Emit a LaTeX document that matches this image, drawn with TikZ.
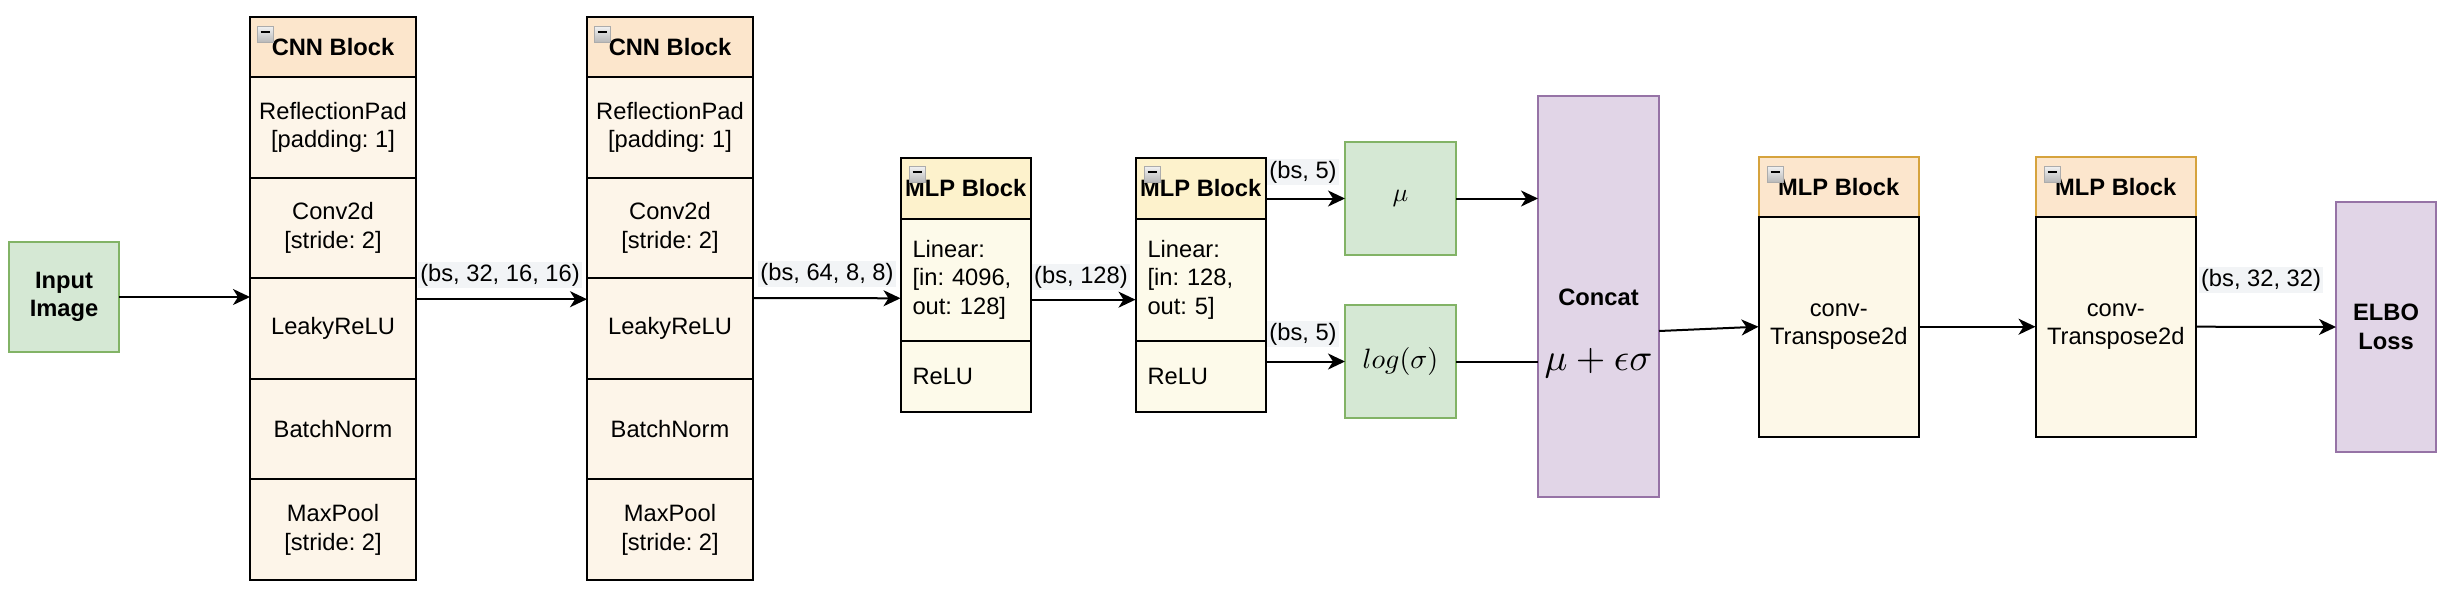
\documentclass[tikz,border=0pt]{standalone}
\usepackage[no-math]{fontspec}
\setmainfont{Liberation Sans}
\usepackage{graphicx}
\usetikzlibrary{arrows.meta}
\definecolor{inputfill}{HTML}{D5E8D4}
\definecolor{inputdraw}{HTML}{82B366}
\definecolor{cnnhead}{HTML}{FCE6CC}
\definecolor{cnnbody}{HTML}{FDF5E9}
\definecolor{mlphead}{HTML}{FDF2CC}
\definecolor{mlpbody}{HTML}{FDFAEA}
\definecolor{dechead}{HTML}{FCE6CD}
\definecolor{decdraw}{HTML}{D6A33D}
\definecolor{decbody}{HTML}{FDF8E8}
\definecolor{purplefill}{HTML}{E1D5E7}
\definecolor{purpledraw}{HTML}{9673A6}
\definecolor{labelbg}{HTML}{F2F4F6}
\begin{document}
\frenchspacing
\begin{tikzpicture}[x=1pt,y=-1pt,
  every node/.style={inner sep=0pt, outer sep=0pt},
  txt/.style={font=\fontsize{23.7}{28.6}\selectfont\frenchspacing},
  btxt/.style={font=\fontsize{23.7}{28.6}\selectfont\bfseries\frenchspacing},
  wh/.style 2 args={minimum width=#1pt, minimum height=#2pt},
  cell/.style={draw=black, line width=2pt, anchor=north west, align=center, txt},
  cnnh/.style={cell, fill=cnnhead, btxt},
  cnnb/.style={cell, fill=cnnbody},
  mlph/.style={cell, fill=mlphead, btxt},
  mlpb/.style={cell, fill=mlpbody, align=left, inner xsep=12pt, text width=106.5pt},
  dech/.style={cell, draw=decdraw, fill=dechead, btxt},
  decb/.style={cell, fill=decbody},
  green/.style={draw=inputdraw, fill=inputfill, line width=2pt, anchor=north west, align=center},
  purple/.style={draw=purpledraw, fill=purplefill, line width=2pt, anchor=north west, align=center, btxt},
  icn/.style={draw=gray!65, line width=0.8pt, top color=gray!10, bottom color=gray!55,
    minimum size=16pt, anchor=north west,
    path picture={\draw[black, line width=1.8pt]
      ([xshift=3.5pt,yshift=2pt]path picture bounding box.west) --
      ([xshift=-3.5pt,yshift=2pt]path picture bounding box.east);}},
  lab/.style={txt, fill=labelbg, inner xsep=2pt, inner ysep=2pt},
  arr/.style={line width=2pt, -{Stealth[length=17pt, width=16pt, inset=5pt]}},
  ln/.style={line width=2pt}
]
\useasboundingbox (0,0) rectangle (2452,590);

% Input
\node[green, wh={110}{110}, btxt] (inp) at (9,242) {Input\\Image};

% CNN block 1
\node[cnnh, wh={166}{60}] (c1h) at (250,17) {CNN Block};
\node[cnnb, wh={166}{100.6}] (c1r1) at (250,77) {ReflectionPad\\{}[padding: 1]};
\node[cnnb, wh={166}{100.6}] (c1r2) at (250,177.6) {Conv2d\\{}[stride: 2]};
\node[cnnb, wh={166}{100.6}] (c1r3) at (250,278.2) {LeakyReLU};
\node[cnnb, wh={166}{100.6}] (c1r4) at (250,378.8) {BatchNorm};
\node[cnnb, wh={166}{100.6}] (c1r5) at (250,479.4) {MaxPool\\{}[stride: 2]};
\node[icn] (ic1) at (257,26) {};

% CNN block 2
\node[cnnh, wh={166}{60}] (c2h) at (587,17) {CNN Block};
\node[cnnb, wh={166}{100.6}] (c2r1) at (587,77) {ReflectionPad\\{}[padding: 1]};
\node[cnnb, wh={166}{100.6}] (c2r2) at (587,177.6) {Conv2d\\{}[stride: 2]};
\node[cnnb, wh={166}{100.6}] (c2r3) at (587,278.2) {LeakyReLU};
\node[cnnb, wh={166}{100.6}] (c2r4) at (587,378.8) {BatchNorm};
\node[cnnb, wh={166}{100.6}] (c2r5) at (587,479.4) {MaxPool\\{}[stride: 2]};
\node[icn] (ic2) at (594,26) {};

% MLP block 1
\node[mlph, wh={130.5}{61}] (m1h) at (900.5,157.6) {MLP Block};
\node[mlpb, wh={130.5}{122.1}] (m1r1) at (900.5,218.6) {Linear:\\{}[in: 4096,\\out: 128]};
\node[mlpb, wh={130.5}{71.3}] (m1r2) at (900.5,340.7) {ReLU};
\node[icn] (ic3) at (909,166) {};

% MLP block 2
\node[mlph, wh={130.5}{61}] (m2h) at (1135.5,157.6) {MLP Block};
\node[mlpb, wh={130.5}{122.1}] (m2r1) at (1135.5,218.6) {Linear:\\{}[in: 128,\\out: 5]};
\node[mlpb, wh={130.5}{71.3}] (m2r2) at (1135.5,340.7) {ReLU};
\node[icn] (ic4) at (1144,166) {};

% mu and log sigma
\node[green, wh={111}{113}] (mu) at (1345,142) {\scalebox{2.6}{$\mu$}};
\node[green, wh={111}{113}] (ls) at (1345,305) {\scalebox{2.8}{$log(\sigma)$}};

% Concat
\node[purple, wh={121}{401}] (cc) at (1538,96) {};
\node[btxt] (cct) at (1598.5,297) {Concat};
\node (ccm) at (1598.5,363) {\scalebox{3.8}{$\mu+\epsilon\sigma$}};

% MLP block 3 (decoder)
\node[dech, wh={160.5}{60}] (m3h) at (1758.5,156.7) {MLP Block};
\node[decb, wh={160.5}{220}] (m3b) at (1758.5,216.7) {conv-\\Transpose2d};
\node[icn] (ic5) at (1767,166) {};

% MLP block 4 (decoder)
\node[dech, wh={160.5}{60}] (m4h) at (2035.5,156.7) {MLP Block};
\node[decb, wh={160.5}{220}] (m4b) at (2035.5,216.7) {conv-\\Transpose2d};
\node[icn] (ic6) at (2044,166) {};

% ELBO
\node[purple, wh={100}{250}] (elbo) at (2336,202) {ELBO\\Loss};

% connectors
\draw[arr] (inp.east) -- (c1r3.west |- inp.east);
\draw[arr] ([yshift=-21pt]c1r3.north east) -- ([yshift=-21pt]c2r3.north west);
\node[lab] (l1) at (500,275) {(bs, 32, 16, 16)};
\draw[arr] ([yshift=-20pt]c2r3.north east) -- ([yshift=-18.6pt]m1r1.west);
\node[lab] (l2) at (827,274) {(bs, 64, 8, 8)};
\draw[arr] ([yshift=-20pt]m1r1.east) -- ([yshift=-20pt]m2r1.west);
\node[lab] (l3) at (1081,277) {(bs, 128)};
\draw[arr] (m2h.east |- mu.west) -- (mu.west);
\node[lab] (l4) at (1303,172) {(bs, 5)};
\draw[arr] (m2r2.east |- ls.west) -- (ls.west);
\node[lab] (l5) at (1303,334) {(bs, 5)};
\draw[arr] (mu.east) -- (mu.east -| cc.west);
\draw[ln] (ls.east) -- (ls.east -| cc.west);
\draw[arr] ([yshift=-34.5pt]cc.east) -- (m3b.west);
\draw[arr] (m3b.east) -- (m4b.west);
\draw[arr] (m4b.east) -- (elbo.west);
\node[lab] (l6) at (2261,280) {(bs, 32, 32)};
\end{tikzpicture}
\end{document}
